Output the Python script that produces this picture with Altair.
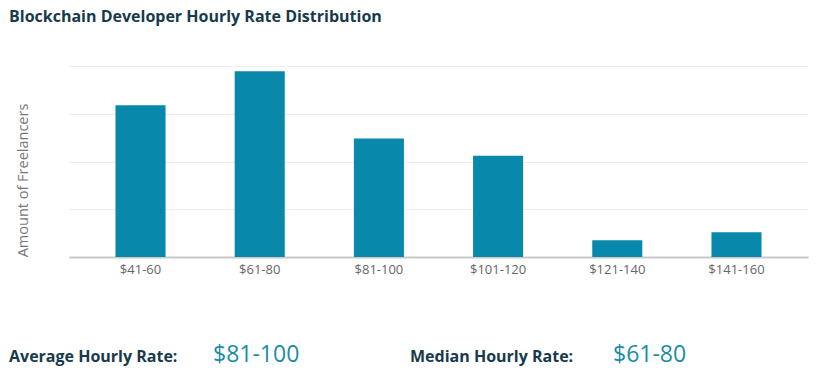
import altair as alt
import pandas as pd

categories = ["$41-60", "$61-80", "$81-100", "$101-120", "$121-140", "$141-160"]
freelancers = [3.18, 3.89, 2.48, 2.12, 0.35, 0.52]

summary_labels = ["Average Hourly Rate:", "Median Hourly Rate:"]
summary_values = ["$81-100", "$61-80"]

df = pd.DataFrame({"rate": categories, "count": freelancers})

FONT = "Open Sans"
NAVY = "#173a4c"
TEAL = "#1a8ea3"

bars = alt.Chart(df).mark_bar(color="#0888aa").encode(
    x=alt.X("rate:N", sort=categories,
            scale=alt.Scale(paddingInner=0.58, paddingOuter=0.39),
            axis=alt.Axis(title=None, labelAngle=0, labelFont=FONT, labelFontSize=13,
                          labelColor="#666666", domainColor="#c8c8c8", domainWidth=2,
                          ticks=False, labelPadding=6, grid=False)),
    y=alt.Y("count:Q", scale=alt.Scale(domain=[0, 4]),
            axis=alt.Axis(title="Amount of Freelancers", labels=False, ticks=False,
                          domain=False, tickCount=4, gridColor="#efefef",
                          titleFont=FONT, titleFontSize=14.5, titleFontWeight="normal",
                          titleColor="#777777", titleAngle=-90, titleX=-46, titleY=114,
                          titleAlign="center", titleBaseline="middle")),
)

def label_layer(text, x, y, size, color, weight):
    return alt.Chart(pd.DataFrame({"t": [text]})).mark_text(
        align="left", baseline="alphabetic", font=FONT, fontSize=size,
        fontWeight=weight, color=color, clip=False,
    ).encode(text="t:N", x=alt.value(x), y=alt.value(y))

texts = (
    label_layer(summary_labels[0], -60, 295.5, 16, NAVY, "bold")
    + label_layer(summary_values[0], 144, 296, 23, TEAL, "normal")
    + label_layer(summary_labels[1], 341, 295.5, 16, NAVY, "bold")
    + label_layer(summary_values[1], 544, 296, 23, TEAL, "normal")
)

chart = (bars + texts).properties(
    width=739, height=191,
    autosize=alt.AutoSizeParams(type="none"),
    padding={"left": 61, "top": 58, "right": 7, "bottom": 116},
    title=alt.TitleParams(
        "Blockchain Developer Hourly Rate Distribution",
        anchor="start", frame="group", dx=-60, offset=28,
        font=FONT, fontSize=16, fontWeight="bold", color=NAVY,
        baseline="alphabetic",
    ),
).configure_view(stroke=None)

chart.save("out.html", embed_options={"renderer": "svg", "actions": False})
